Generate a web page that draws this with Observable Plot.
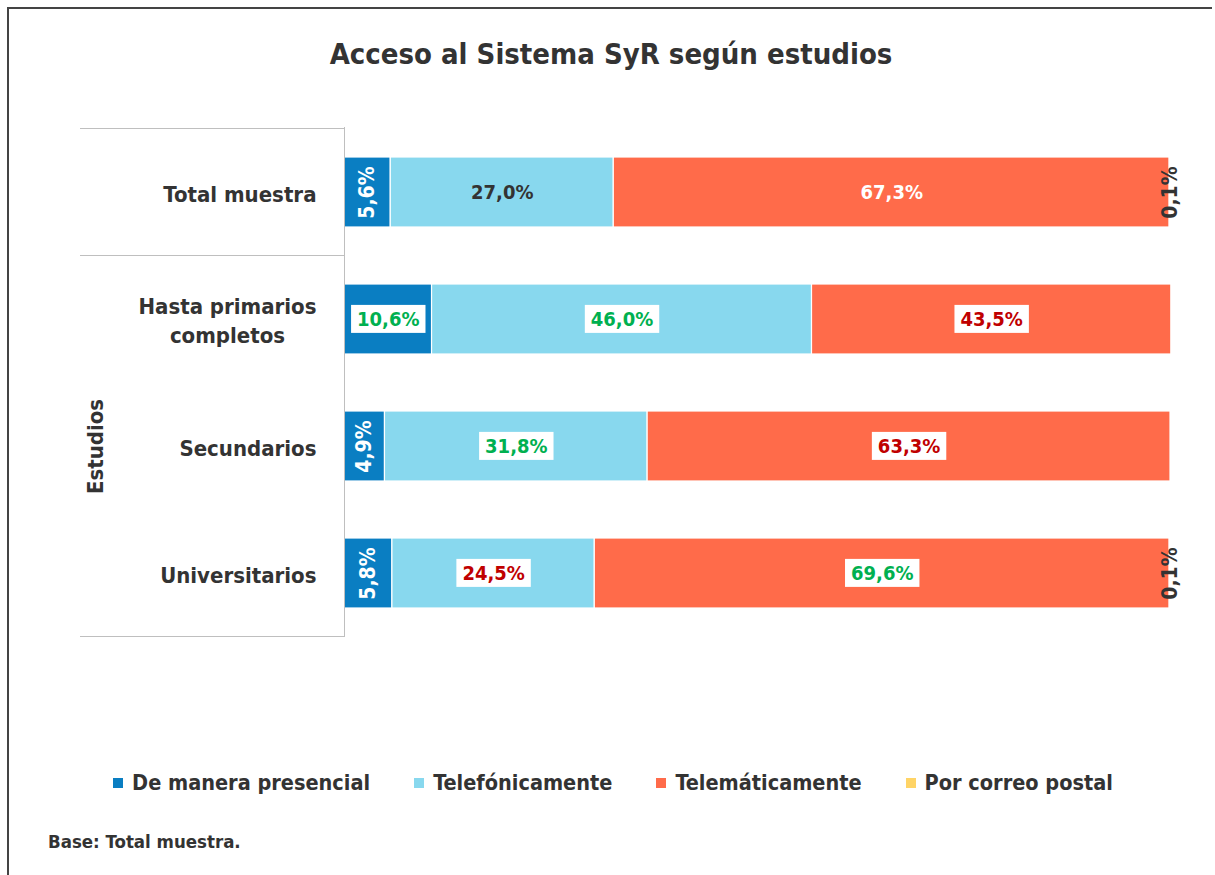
<!DOCTYPE html>
<html><head><meta charset="utf-8">
<script src="https://cdn.jsdelivr.net/npm/d3@7"></script>
<script src="https://cdn.jsdelivr.net/npm/@observablehq/plot@0.6"></script>
<style>
body{margin:0;background:#fff;}
#wrap{position:relative;width:1215px;height:875px;overflow:hidden;font-family:"DejaVu Sans Condensed","DejaVu Sans",sans-serif;font-stretch:condensed;color:#333;font-weight:bold;}
#bt{position:absolute;left:7px;top:7px;width:1205px;height:0;border-top:2px solid #444;}
#bl{position:absolute;left:7px;top:7px;width:0;height:870px;border-left:2px solid #444;}
#title{position:absolute;left:0;top:36px;width:1222px;text-align:center;font-size:29px;line-height:36px;}
#chart{position:absolute;left:0;top:100px;}
#legend{position:absolute;left:0;top:771px;width:1226px;display:flex;justify-content:center;gap:44px;font-size:21.5px;line-height:24px;}
#legend .it{display:flex;align-items:center;}
#legend .sw{width:10px;height:10px;margin-right:9px;}
#caption{position:absolute;left:48px;top:831px;font-size:18.5px;line-height:22px;}
</style></head><body>
<div id="wrap">
 <div id="bt"></div><div id="bl"></div>
 <div id="title">Acceso al Sistema SyR según estudios</div>
 <div id="chart"></div>
 <div id="legend"></div>
 <div id="caption">Base: Total muestra.</div>
</div>
<script>
const categories = ["Total muestra", "Hasta primarios completos", "Secundarios", "Universitarios"];
const categoryLabels = ["Total muestra", "Hasta primarios\ncompletos", "Secundarios", "Universitarios"];
const groupLabel = "Estudios";
const series = ["De manera presencial", "Telefónicamente", "Telemáticamente", "Por correo postal"];
const presencial = [5.6, 10.6, 4.9, 5.8];
const telefonica = [27.0, 46.0, 31.8, 24.5];
const telematica = [67.3, 43.5, 63.3, 69.6];
const postal = [0.1, 0, 0, 0.1];
// significance vs. total sample: "+" higher, "-" lower, "" none
const sigPresencial = ["", "+", "", ""];
const sigTelefonica = ["", "+", "+", "-"];
const sigTelematica = ["", "-", "-", "+"];
const sigPostal = ["", "", "", ""];

const colors = ["#0A7EC2", "#88D8EE", "#FF6B4A", "#FFD466"];
const labelColors = ["#ffffff", "#333333", "#ffffff", "#333333"];
const sigColors = {"+": "#00B050", "-": "#C00000"};

const values = [presencial, telefonica, telematica, postal];
const sigs = [sigPresencial, sigTelefonica, sigTelematica, sigPostal];
const table = [];
categories.forEach((c, i) => {
  let acc = 0;
  series.forEach((s, j) => {
    const v = values[j][i];
    table.push({cat: c, series: s, j, value: v, x1: acc, x2: acc + v, mid: acc + v / 2, sig: sigs[j][i]});
    acc += v;
  });
});
const fmt = v => v.toFixed(1).replace(".", ",") + "%";
const font = "'DejaVu Sans Condensed','DejaVu Sans',sans-serif";

const shown = table.filter(d => d.value > 0);
const plot = Plot.plot({
  width: 1215, height: 560,
  marginLeft: 344, marginRight: 45, marginTop: 27, marginBottom: 23,
  style: {fontFamily: font, fontStretch: "condensed", color: "#333", background: "transparent", overflow: "visible"},
  x: {domain: [0, 100], axis: null},
  y: {domain: categories, paddingInner: 0.45, paddingOuter: 0.225, label: null},
  color: {domain: series, range: colors},
  marks: [
    Plot.barX(shown, {x1: "x1", x2: "x2", y: "cat", fill: "series", stroke: "white", strokeWidth: 1.2}),
    Plot.ruleX([0], {stroke: "#bfbfbf", strokeWidth: 1}),
    Plot.axisY({tickSize: 0, tickPadding: 28, fontSize: 22, fontWeight: "bold", lineHeight: 1.3,
      tickFormat: d => categoryLabels[categories.indexOf(d)]}),
    Plot.text([groupLabel], {y: [categories[2]], frameAnchor: "left", textAnchor: "middle", dx: -249, rotate: -90,
      text: d => d, fontSize: 22, fontWeight: "bold", fill: "#333"}),
    // plain horizontal labels
    Plot.text(shown.filter(d => !d.sig && d.value >= 8), {x: "mid", y: "cat", text: d => fmt(d.value),
      fill: d => labelColors[d.j], fontSize: 20, fontWeight: "bold"}),
    // rotated labels for narrow segments
    Plot.text(shown.filter(d => !d.sig && d.value < 8), {x: "mid", y: "cat", text: d => fmt(d.value),
      rotate: -90, fill: d => labelColors[d.j], fontSize: 21, fontWeight: "bold"}),
    // significance labels on white boxes
    Plot.text(shown.filter(d => d.sig), {x: "mid", y: "cat", text: d => fmt(d.value),
      fill: d => sigColors[d.sig], fontSize: 20, fontWeight: "bold", className: "boxed"})
  ]
});
document.getElementById("chart").appendChild(plot);

// white boxes behind significance labels
d3.select(plot).selectAll("g.boxed text").each(function() {
  const b = this.getBBox();
  const r = document.createElementNS("http://www.w3.org/2000/svg", "rect");
  r.setAttribute("x", b.x - 6); r.setAttribute("y", b.y - 2);
  r.setAttribute("width", b.width + 12); r.setAttribute("height", b.height + 4);
  r.setAttribute("fill", "white");
  if (this.getAttribute("transform")) r.setAttribute("transform", this.getAttribute("transform"));
  this.parentNode.insertBefore(r, this);
});

// centre multi-line axis labels
d3.select(plot).selectAll("g[aria-label='y-axis tick label'] text").each(function() {
  const ts = this.querySelectorAll("tspan");
  if (ts.length > 1) {
    const b = this.getBBox();
    const cx = b.x + b.width / 2;
    this.setAttribute("text-anchor", "middle");
    ts.forEach(t => t.setAttribute("x", cx));
  }
});

// table frame lines in the left margin
const ys = plot.scale("y"), xs = plot.scale("x");
const gap = (ys.step - ys.bandwidth) / 2;
const edges = [ys.apply(categories[0]) - gap, ys.apply(categories[1]) - gap, ys.apply(categories[3]) + ys.bandwidth + gap];
const x0 = xs.apply(0);
d3.select(plot).append("g").selectAll("line").data(edges).join("line")
  .attr("x1", 80).attr("x2", x0).attr("y1", d => d).attr("y2", d => d)
  .attr("stroke", "#bfbfbf").attr("stroke-width", 1).attr("shape-rendering", "crispEdges");

// legend
const lg = d3.select("#legend");
series.forEach((s, j) => {
  const it = lg.append("div").attr("class", "it");
  it.append("div").attr("class", "sw").style("background", colors[j]);
  it.append("span").text(s);
});
</script>
</body></html>
